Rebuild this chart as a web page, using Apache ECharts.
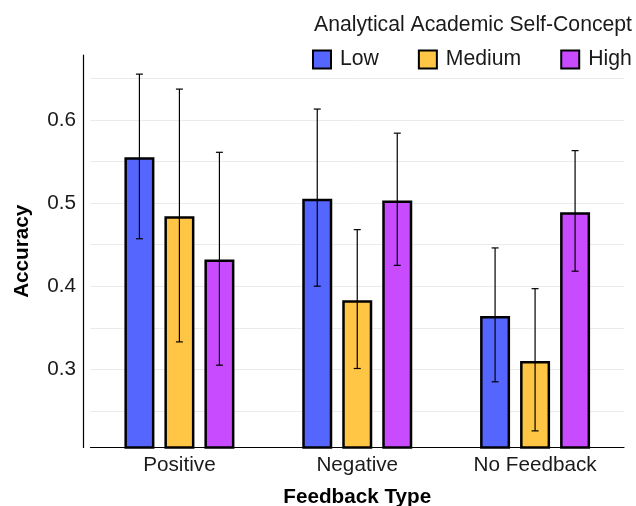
<!DOCTYPE html>
<html>
<head>
<meta charset="utf-8"/>
<title>Accuracy by Feedback Type</title>
<script src="https://cdn.jsdelivr.net/npm/echarts@6/dist/echarts.min.js"></script>
<style type="text/css">
    body{margin:0;background:#fff;}
    #main{width:636px;height:506px;}
</style>
</head>
<body>
<div id="main"></div>
<script type="text/javascript">
var feedbackTypes = ['Positive', 'Negative', 'No Feedback'];
var groups = ['Low', 'Medium', 'High'];
var groupColors = ['#5566FF', '#FFC545', '#C84BFF'];

var lowMeans = [0.555, 0.505, 0.364];
var mediumMeans = [0.484, 0.383, 0.310];
var highMeans = [0.432, 0.503, 0.489];

// error bar ends: [lower, upper]
var lowErr = [[0.457, 0.655], [0.400, 0.613], [0.285, 0.446]];
var mediumErr = [[0.333, 0.637], [0.301, 0.468], [0.226, 0.397]];
var highErr = [[0.305, 0.561], [0.425, 0.584], [0.418, 0.563]];

var yTicks = [0.3, 0.4, 0.5, 0.6];

var font = 'Liberation Sans, Arial, sans-serif';
var fs = 20.7;
var legendFs = 21.2;
var barW = 30;
var barStep = 40; // centre to centre distance of bars in a group

var myChart = echarts.init(document.getElementById('main'));

function barSeries(i, values) {
    return {
        name: groups[i],
        type: 'bar',
        data: values,
        barWidth: barW,
        barGap: ((barStep - barW) / barW * 100) + '%',
        itemStyle: {color: groupColors[i], borderColor: '#000', borderWidth: 2.5},
        emphasis: {disabled: true}
    };
}

function errSeries(i, errs) {
    return {
        type: 'custom',
        z: 5,
        silent: true,
        data: errs.map(function (e, k) { return [k, e[0], e[1]]; }),
        encode: {x: 0, y: [1, 2]},
        renderItem: function (params, api) {
            var lo = api.coord([api.value(0), api.value(1)]);
            var hi = api.coord([api.value(0), api.value(2)]);
            var x = lo[0] + (i - 1) * barStep;
            var cap = 3.5;
            var st = {stroke: '#000', lineWidth: 1.2};
            return {
                type: 'group',
                children: [
                    {type: 'line', shape: {x1: x, y1: lo[1], x2: x, y2: hi[1]}, style: st},
                    {type: 'line', shape: {x1: x - cap, y1: lo[1], x2: x + cap, y2: lo[1]}, style: st},
                    {type: 'line', shape: {x1: x - cap, y1: hi[1], x2: x + cap, y2: hi[1]}, style: st}
                ]
            };
        }
    };
}

var option = {
    animation: false,
    textStyle: {fontFamily: font},
    title: {
        text: 'Analytical Academic Self-Concept',
        left: 309,
        top: 10,
        textStyle: {fontSize: legendFs, fontWeight: 'normal', color: '#1a1a1a', fontFamily: font}
    },
    legend: {
        data: groups,
        left: 312,
        top: 49,
        width: 324,
        padding: 0,
        icon: 'rect',
        itemWidth: 18,
        itemHeight: 18,
        itemGap: 39,
        itemStyle: {borderColor: '#000', borderWidth: 2},
        textStyle: {fontSize: legendFs, color: '#1a1a1a', fontFamily: font, padding: [0, 0, 0, 4]}
    },
    grid: {left: 90.5, right: 12, top: 55, bottom: 58.5, outerBoundsMode: 'none'},
    xAxis: {
        type: 'category',
        data: feedbackTypes,
        name: 'Feedback Type',
        nameLocation: 'middle',
        nameGap: 39,
        nameTextStyle: {fontSize: fs, fontWeight: 'bold', color: '#000', fontFamily: font},
        axisLine: {lineStyle: {color: '#000', width: 1.2}},
        axisTick: {show: false},
        axisLabel: {fontSize: fs, color: '#1a1a1a', margin: 7, fontFamily: font},
        splitLine: {show: false}
    },
    yAxis: {
        type: 'value',
        min: 0.206,
        max: 0.678,
        splitNumber: 10,
        offset: 7.5,
        name: 'Accuracy',
        nameLocation: 'middle',
        nameRotate: 90,
        nameGap: 50,
        nameTextStyle: {fontSize: fs, fontWeight: 'bold', color: '#000', fontFamily: font},
        axisLine: {show: true, lineStyle: {color: '#000', width: 1.2}},
        axisTick: {show: false},
        axisLabel: {
            fontSize: fs, color: '#1a1a1a', margin: 7, fontFamily: font,
            showMinLabel: false, showMaxLabel: false,
            formatter: function (v) {
                for (var k = 0; k < yTicks.length; k++) {
                    if (Math.abs(yTicks[k] - v) < 1e-6) return yTicks[k].toFixed(1);
                }
                return '';
            }
        },
        splitLine: {show: true, showMinLine: false, showMaxLine: false, lineStyle: {color: '#EBEBEB', width: 1}}
    },
    series: [
        barSeries(0, lowMeans),
        barSeries(1, mediumMeans),
        barSeries(2, highMeans),
        errSeries(0, lowErr),
        errSeries(1, mediumErr),
        errSeries(2, highErr)
    ]
};
myChart.setOption(option);
</script>
</body>
</html>
